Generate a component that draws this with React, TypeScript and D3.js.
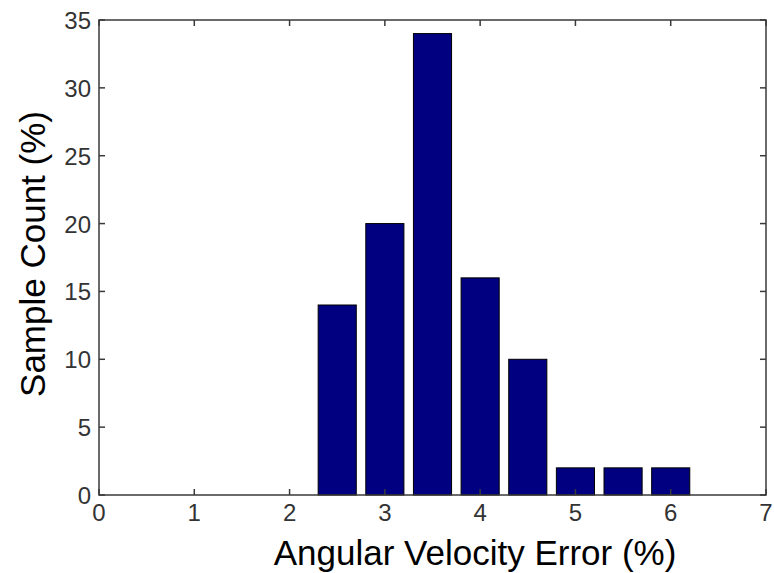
import React from "react";
import * as d3 from "d3";

const binCenters = [2.5, 3, 3.5, 4, 4.5, 5, 5.5, 6];
const sampleCounts = [14, 20, 34, 16, 10, 2, 2, 2];
const xTicks = [0, 1, 2, 3, 4, 5, 6, 7];
const yTicks = [0, 5, 10, 15, 20, 25, 30, 35];
const xLabel = "Angular Velocity Error (%)";
const yLabel = "Sample Count (%)";

export default function App() {
  const W = 774, H = 573;
  const left = 99, right = 766, top = 20, bottom = 495;
  const x = d3.scaleLinear().domain([0, 7]).range([left, right]);
  const y = d3.scaleLinear().domain([0, 35]).range([bottom, top]);
  const barW = x(0.4) - x(0);
  const axisColor = "#3a3a3a";
  const font = "Liberation Sans, Arial, sans-serif";
  const tl = 6;
  return (
    <svg width={W} height={H} style={{ position: "absolute", left: 0, top: 0, background: "#fff" }}>
      <rect x={0} y={0} width={W} height={H} fill="#fff" />
      {binCenters.map((c, i) => (
        <rect key={i} x={x(c) - barW / 2} y={y(sampleCounts[i])} width={barW} height={y(0) - y(sampleCounts[i])}
          fill="#000080" stroke="#000" strokeWidth={1} />
      ))}
      <rect x={left} y={top} width={right - left} height={bottom - top} fill="none" stroke={axisColor} strokeWidth={1.5} />
      {xTicks.map((t) => (
        <g key={"x" + t}>
          <line x1={x(t)} x2={x(t)} y1={bottom} y2={bottom - tl} stroke={axisColor} strokeWidth={1.5} />
          <line x1={x(t)} x2={x(t)} y1={top} y2={top + tl} stroke={axisColor} strokeWidth={1.5} />
          <text x={x(t)} y={bottom + 26} textAnchor="middle" fontFamily={font} fontSize={24} fill="#333">{t}</text>
        </g>
      ))}
      {yTicks.map((t) => (
        <g key={"y" + t}>
          <line x1={left} x2={left + tl} y1={y(t)} y2={y(t)} stroke={axisColor} strokeWidth={1.5} />
          <line x1={right} x2={right - tl} y1={y(t)} y2={y(t)} stroke={axisColor} strokeWidth={1.5} />
          <text x={91} y={y(t) + 9} textAnchor="end" fontFamily={font} fontSize={24} fill="#333">{t}</text>
        </g>
      ))}
      <text x={475} y={565} textAnchor="middle" fontFamily={font} fontSize={35} fill="#000">{xLabel}</text>
      <text transform={`translate(45,254) rotate(-90)`} textAnchor="middle" fontFamily={font} fontSize={35} fill="#000">{yLabel}</text>
    </svg>
  );
}
